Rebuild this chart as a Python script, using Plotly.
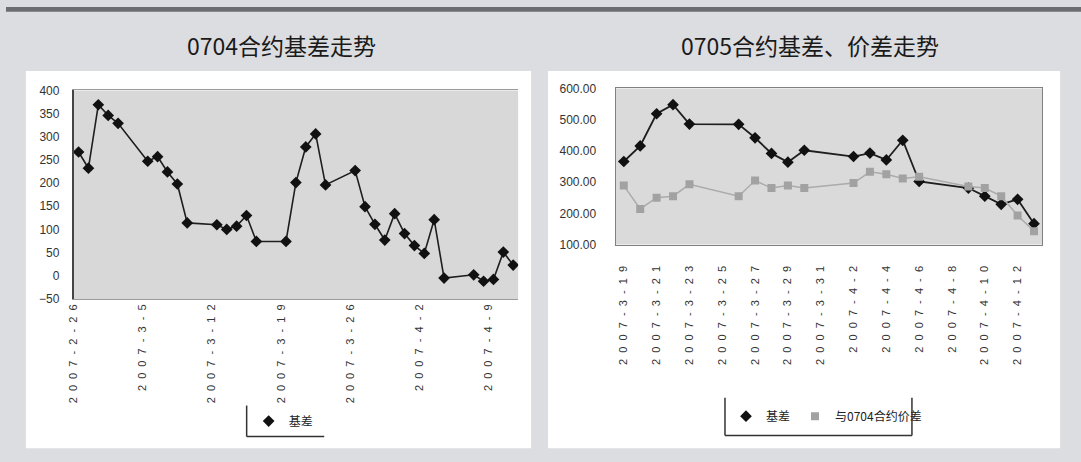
import plotly.graph_objects as go
import pandas as pd

W, H = 1081, 462

# ---------------- data: 0704 contract basis ----------------
dates_0704 = ["2007-02-26", "2007-02-27", "2007-02-28", "2007-03-01", "2007-03-02",
              "2007-03-05", "2007-03-06", "2007-03-07", "2007-03-08", "2007-03-09",
              "2007-03-12", "2007-03-13", "2007-03-14", "2007-03-15", "2007-03-16",
              "2007-03-19", "2007-03-20", "2007-03-21", "2007-03-22", "2007-03-23",
              "2007-03-26", "2007-03-27", "2007-03-28", "2007-03-29", "2007-03-30",
              "2007-03-31", "2007-04-01", "2007-04-02", "2007-04-03", "2007-04-04",
              "2007-04-07", "2007-04-08", "2007-04-09", "2007-04-10", "2007-04-11"]
basis_0704 = [267, 232, 369, 346, 329,
              247, 257, 224, 198, 114,
              110, 100, 107, 130, 74,
              74, 201, 278, 306, 196,
              227, 149, 111, 77, 134,
              91, 65, 48, 121, -5,
              2, -12, -8, 51, 23]
xticks_0704 = ["2007-02-26", "2007-03-05", "2007-03-12", "2007-03-19",
               "2007-03-26", "2007-04-02", "2007-04-09"]
xlabels_0704 = ["2007-2-26", "2007-3-5", "2007-3-12", "2007-3-19",
                "2007-3-26", "2007-4-2", "2007-4-9"]
yticks_0704 = [-50, 0, 50, 100, 150, 200, 250, 300, 350, 400]

# ---------------- data: 0705 contract basis & spread ----------------
dates_0705 = ["2007-03-19", "2007-03-20", "2007-03-21", "2007-03-22", "2007-03-23",
              "2007-03-26", "2007-03-27", "2007-03-28", "2007-03-29", "2007-03-30",
              "2007-04-02", "2007-04-03", "2007-04-04", "2007-04-05", "2007-04-06",
              "2007-04-09", "2007-04-10", "2007-04-11", "2007-04-12", "2007-04-13"]
basis_0705 = [366, 416, 519, 548, 486,
              485, 442, 392, 364, 402,
              382, 393, 371, 434, 302,
              281, 255, 229, 245, 167]
spread_0705 = [289, 214, 250, 255, 293,
               255, 305, 281, 289, 281,
               297, 333, 325, 312, 317,
               286, 281, 255, 193, 143]
xticks_0705 = ["2007-03-19", "2007-03-21", "2007-03-23", "2007-03-25", "2007-03-27",
               "2007-03-29", "2007-03-31", "2007-04-02", "2007-04-04", "2007-04-06",
               "2007-04-08", "2007-04-10", "2007-04-12"]
xlabels_0705 = ["2007-3-19", "2007-3-21", "2007-3-23", "2007-3-25", "2007-3-27",
                "2007-3-29", "2007-3-31", "2007-4-2", "2007-4-4", "2007-4-6",
                "2007-4-8", "2007-4-10", "2007-4-12"]
yticks_0705 = [100, 200, 300, 400, 500, 600]

title_left = "0704合约基差走势"
title_right = "0705合约基差、价差走势"
name_basis = "基差"
name_spread = "与0704合约价差"

# ---------------- styling helpers ----------------
def spaced(s):
    return "\u00a0\u00a0".join(s)

def px(x):
    return x / W

def py(y):
    return 1 - y / H

CJK = "Noto Sans CJK SC, Noto Sans, sans-serif"
TICKFONT = "Liberation Sans, Arial, sans-serif"

# subplot domains (pixel -> paper)
L_x = [px(68), px(515)]
L_y = [py(301), py(86)]
R_x = [px(613), px(1042)]
R_y = [py(245), py(84)]

BLACK_LINE = dict(color="#1e1e1e", width=1.6)
BLACK_MARK = dict(symbol="diamond", size=9, color="#111111")
GREY_LINE = dict(color="#ababab", width=1.5)
GREY_MARK = dict(symbol="square", size=8, color="#a2a2a2")

fig = go.Figure()

# Excel date axis "between dates": points sit in the middle of each day
x_left = pd.to_datetime(dates_0704) + pd.Timedelta(hours=12)
x_right = pd.to_datetime(dates_0705)

fig.add_trace(go.Scatter(
    x=x_left, y=basis_0704, mode="lines+markers", name=name_basis,
    line=BLACK_LINE, marker=BLACK_MARK, showlegend=False,
    xaxis="x", yaxis="y"))
fig.add_trace(go.Scatter(
    x=x_right, y=basis_0705, mode="lines+markers", name=name_basis,
    line=dict(BLACK_LINE, width=1.8), marker=BLACK_MARK, showlegend=False,
    xaxis="x2", yaxis="y2"))
fig.add_trace(go.Scatter(
    x=x_right, y=spread_0705, mode="lines+markers", name=name_spread,
    line=GREY_LINE, marker=GREY_MARK, showlegend=False,
    xaxis="x2", yaxis="y2"))

# legend entries (marker only, as in the original)
fig.add_trace(go.Scatter(x=[None], y=[None], mode="markers", name=name_basis,
                         marker=BLACK_MARK, xaxis="x", yaxis="y", legend="legend"))
fig.add_trace(go.Scatter(x=[None], y=[None], mode="markers", name=name_basis,
                         marker=BLACK_MARK, xaxis="x2", yaxis="y2", legend="legend2"))
fig.add_trace(go.Scatter(x=[None], y=[None], mode="markers", name=name_spread,
                         marker=GREY_MARK, xaxis="x2", yaxis="y2", legend="legend2"))

shapes = [
    # top dark bar
    dict(type="rect", xref="paper", yref="paper", x0=0, x1=1, y0=py(5), y1=1,
         fillcolor="#6c6d71", line=dict(width=0), layer="below"),
    # white panels
    dict(type="rect", xref="paper", yref="paper", x0=px(20), x1=px(528),
         y0=py(455), y1=py(66), fillcolor="white", line=dict(width=0), layer="below"),
    dict(type="rect", xref="paper", yref="paper", x0=px(545), x1=px(1060),
         y0=py(455), y1=py(66), fillcolor="white", line=dict(width=0), layer="below"),
    # plot backgrounds
    dict(type="rect", xref="paper", yref="paper", x0=L_x[0], x1=L_x[1],
         y0=L_y[0], y1=L_y[1], fillcolor="#d8d8d8", line=dict(width=0), layer="below"),
    dict(type="rect", xref="paper", yref="paper", x0=R_x[0], x1=R_x[1],
         y0=R_y[0], y1=R_y[1], fillcolor="#dadada", line=dict(width=0), layer="below"),
    # legend frames
    dict(type="line", xref="paper", yref="paper", x0=px(242), x1=px(242),
         y0=py(443), y1=py(411), line=dict(color="#333", width=1.5)),
    dict(type="line", xref="paper", yref="paper", x0=px(242), x1=px(320),
         y0=py(443), y1=py(443), line=dict(color="#333", width=1.5)),
    dict(type="line", xref="paper", yref="paper", x0=px(723), x1=px(723),
         y0=py(442), y1=py(403), line=dict(color="#333", width=1.5)),
    dict(type="line", xref="paper", yref="paper", x0=px(723), x1=px(911),
         y0=py(442), y1=py(442), line=dict(color="#333", width=1.5)),
    dict(type="line", xref="paper", yref="paper", x0=px(911), x1=px(911),
         y0=py(442), y1=py(403), line=dict(color="#333", width=1.5)),
]

annotations = [
    dict(text=title_left, xref="paper", yref="paper", x=px(277), y=py(39),
         showarrow=False, xanchor="center", yanchor="middle",
         font=dict(family=CJK, size=23, color="#1a1a1a")),
    dict(text=title_right, xref="paper", yref="paper", x=px(808), y=py(39),
         showarrow=False, xanchor="center", yanchor="middle",
         font=dict(family=CJK, size=23, color="#1a1a1a")),
]

fig.update_layout(
    width=W, height=H,
    margin=dict(l=0, r=0, t=0, b=0),
    paper_bgcolor="#dcdde0",
    plot_bgcolor="rgba(0,0,0,0)",
    shapes=shapes,
    annotations=annotations,
    xaxis=dict(domain=L_x, anchor="y", type="date",
               range=["2007-02-26", "2007-04-12"],
               tickmode="array", tickvals=xticks_0704,
               ticktext=[spaced(t) for t in xlabels_0704],
               tickangle=-90, ticks="", ticklabelstandoff=0,
               showline=True, linecolor="#9a9a9a", linewidth=1, mirror=True,
               showgrid=False, zeroline=False,
               tickfont=dict(family=TICKFONT, size=11, color="#333")),
    yaxis=dict(domain=L_y, anchor="x", range=[-50, 400],
               tickmode="array", tickvals=yticks_0704, ticks="",
               ticklabelstandoff=10,
               showline=True, linecolor="#444", linewidth=1.5, mirror=False,
               showgrid=False, zeroline=False,
               tickfont=dict(family=TICKFONT, size=12, color="#333")),
    xaxis2=dict(domain=R_x, anchor="y2", type="date",
                range=["2007-03-18 12:00", "2007-04-13 12:00"],
                tickmode="array", tickvals=xticks_0705,
                ticktext=[spaced(t) for t in xlabels_0705],
                tickangle=-90, ticks="", ticklabelstandoff=16,
                showline=True, linecolor="#808080", linewidth=1, mirror=True,
                showgrid=False, zeroline=False,
                tickfont=dict(family=TICKFONT, size=11, color="#333")),
    yaxis2=dict(domain=R_y, anchor="x2", range=[100, 600],
                tickmode="array", tickvals=yticks_0705, tickformat=".2f", ticks="",
                ticklabelstandoff=16,
                showline=True, linecolor="#808080", linewidth=1, mirror=True,
                showgrid=False, zeroline=False,
                tickfont=dict(family=TICKFONT, size=12, color="#333")),
    legend=dict(x=px(244), y=py(427), xanchor="left", yanchor="middle",
                orientation="h", bgcolor="rgba(0,0,0,0)", borderwidth=0,
                font=dict(family=CJK, size=12, color="#222")),
    legend2=dict(x=px(724), y=py(422), xanchor="left", yanchor="middle",
                 orientation="h", bgcolor="rgba(0,0,0,0)", borderwidth=0,
                 font=dict(family=CJK, size=12, color="#222")),
    showlegend=True,
)

fig.write_html("out.html")
